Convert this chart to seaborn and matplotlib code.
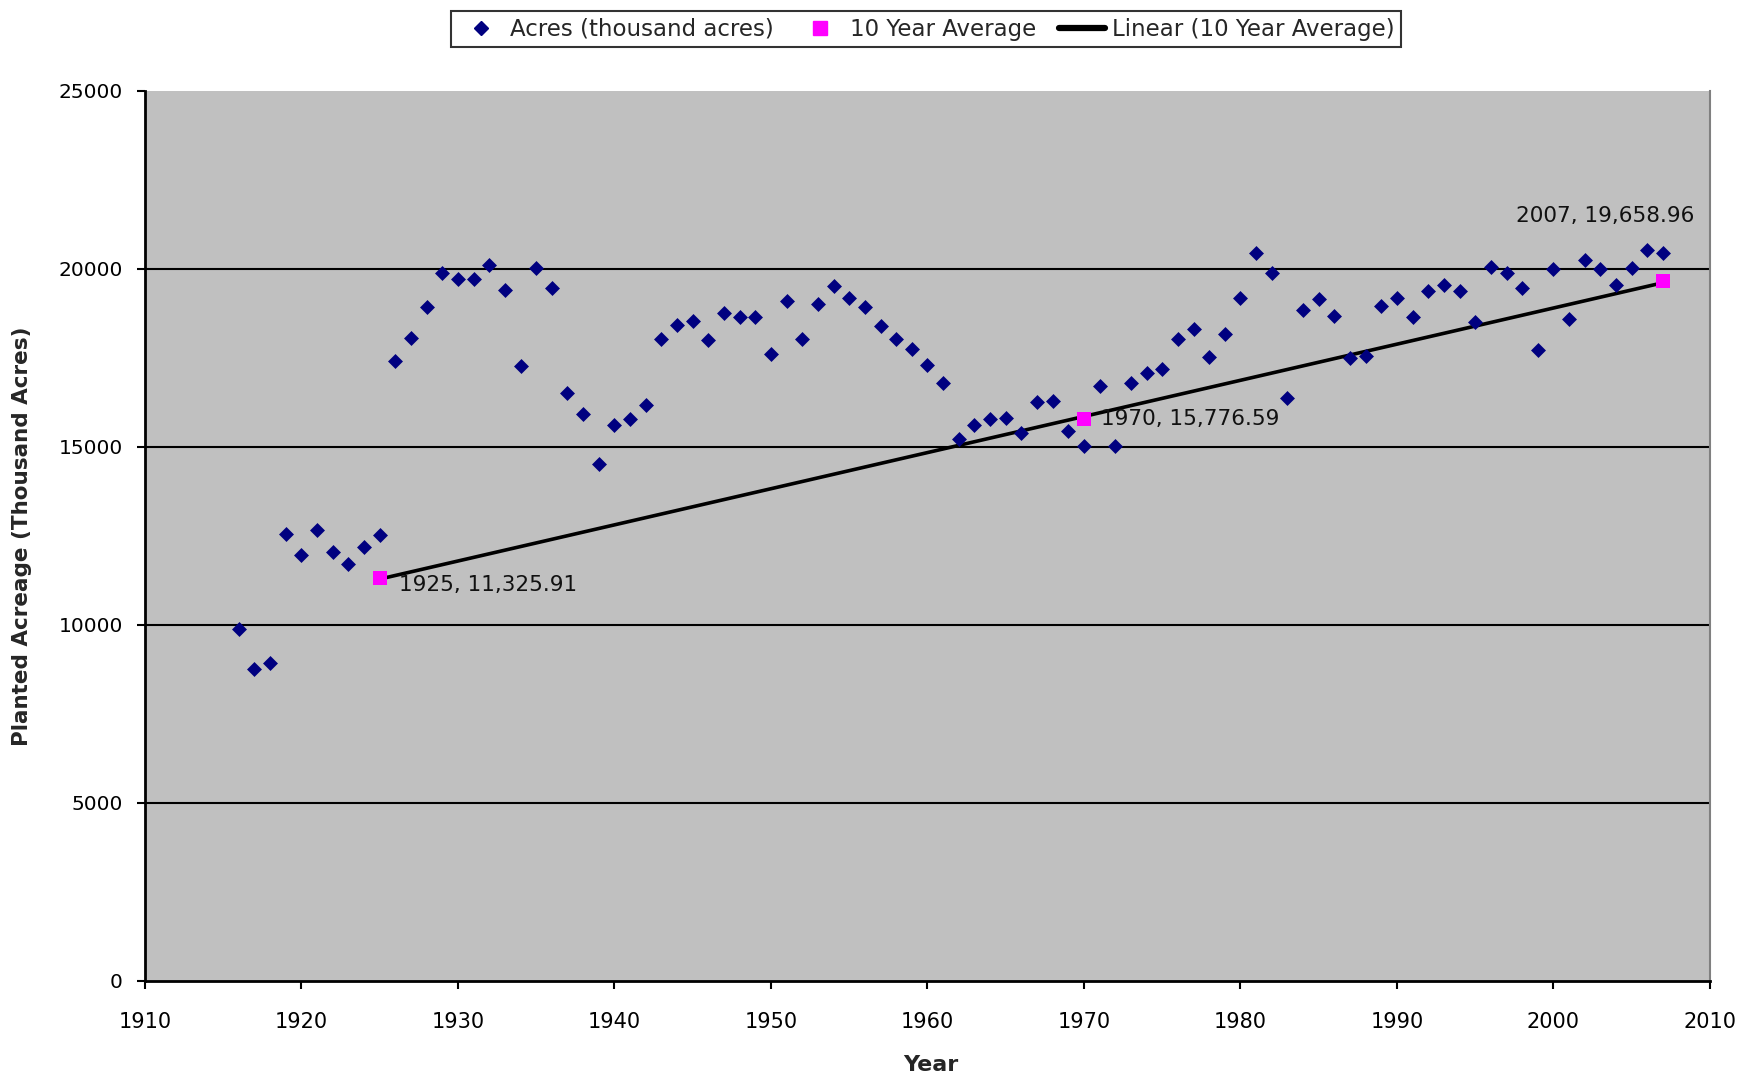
import numpy as np
import pandas as pd
import matplotlib
matplotlib.use("Agg")
import matplotlib.pyplot as plt
import seaborn as sns
from matplotlib.lines import Line2D

years = list(range(1916, 2008))
acres = [9900, 8750, 8940, 12560, 11970, 12660, 12060, 11720, 12190, 12530,
         17410, 18060, 18940, 19875, 19720, 19720, 20125, 19400, 17280, 20030,
         19470, 16530, 15940, 14530, 15625, 15780, 16190, 18030, 18440, 18530,
         18000, 18750, 18660, 18660, 17620, 19090, 18030, 19030, 19530, 19190,
         18940, 18400, 18030, 17750, 17310, 16810, 15220, 15625, 15780, 15810,
         15400, 16250, 16280, 15440, 15030, 16720, 15030, 16810, 17090, 17190,
         18030, 18310, 17530, 18160, 19190, 20440, 19900, 16375, 18840, 19150,
         18690, 17500, 17560, 18970, 19190, 18660, 19375, 19560, 19375, 18500,
         20060, 19900, 19470, 17720, 20000, 18590, 20250, 20000, 19560, 20030,
         20530, 20440]

avg_years = [1925, 1970, 2007]
avg_values = [11325.91, 15776.59, 19658.96]
avg_labels = ["1925, 11,325.91", "1970, 15,776.59", "2007, 19,658.96"]

x_ticks = list(range(1910, 2011, 10))
y_ticks = list(range(0, 25001, 5000))

df = pd.DataFrame({"Year": years, "Acres": acres})
davg = pd.DataFrame({"Year": avg_years, "Avg": avg_values})
coef = np.polyfit(avg_years, avg_values, 1)
dtrend = pd.DataFrame({"Year": [avg_years[0], avg_years[-1]]})
dtrend["Trend"] = np.polyval(coef, dtrend["Year"])

sns.set_style("white")
plt.rcParams["font.family"] = ["DejaVu Sans"]

fig = plt.figure(figsize=(17.44, 10.78), dpi=100)
ax = fig.add_axes([0.0831, 0.090, 0.8974, 0.8256])
ax.set_facecolor("#C0C0C0")

for yv in y_ticks[1:-1]:
    ax.axhline(yv, color="black", lw=1.5, zorder=1)

sns.lineplot(data=dtrend, x="Year", y="Trend", ax=ax, color="black", lw=2.6, zorder=3)
sns.scatterplot(data=df, x="Year", y="Acres", ax=ax, marker="D", s=58,
                color="#000080", linewidth=0, zorder=4)
sns.scatterplot(data=davg, x="Year", y="Avg", ax=ax, marker="s", s=110,
                color="#FF00FF", linewidth=0, zorder=5)

offsets = [(14, -5), (12, 0), (-106, 47)]
for xv, yv, lab, off in zip(avg_years, avg_values, avg_labels, offsets):
    ax.annotate(lab, (xv, yv), xytext=off, textcoords="offset points",
                ha="left", va="center", fontsize=15.5, color="#111111", zorder=6)

ax.set_xlim(1910, 2010)
ax.set_ylim(0, 25000)
ax.set_xticks(x_ticks)
ax.set_yticks(y_ticks)
ax.tick_params(axis="x", direction="out", length=6, width=1.5, pad=16,
               labelsize=15, colors="black", bottom=True)
ax.tick_params(axis="y", direction="out", length=6, width=1.5, pad=10,
               labelsize=14.5, colors="black", left=True)

for side in ["left", "bottom"]:
    ax.spines[side].set_color("black")
    ax.spines[side].set_linewidth(2)
ax.spines["top"].set_visible(False)
ax.spines["right"].set_color("#808080")
ax.spines["right"].set_linewidth(1.5)

ax.set_xlabel("Year", fontsize=16, fontweight="bold")
ax.set_ylabel("Planted Acreage (Thousand Acres)", fontsize=15.5, fontweight="bold")
ax.xaxis.set_label_coords(0.502, -0.083)
ax.yaxis.set_label_coords(-0.072, 0.5)

handles = [
    Line2D([], [], marker="D", color="#000080", ls="none", markersize=7.5),
    Line2D([], [], marker="s", color="#FF00FF", ls="none", markersize=10),
    Line2D([], [], color="black", lw=4.5),
]
labels = ["Acres (thousand acres)", "10 Year Average", "Linear (10 Year Average)"]
leg = fig.legend(handles, labels, loc="center", bbox_to_anchor=(0.531, 0.973),
                 ncol=3, fontsize=16.5, frameon=True, fancybox=False,
                 edgecolor="black", handlelength=2.0, handletextpad=0.3,
                 columnspacing=1.0, borderpad=0.3)
leg.get_frame().set_linewidth(1.5)

fig.savefig("out.png", dpi=100)
